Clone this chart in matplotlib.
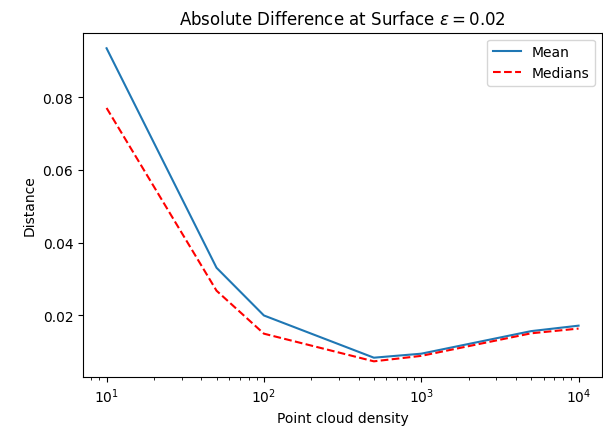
import matplotlib
matplotlib.use("Agg")
import matplotlib.pyplot as plt

density = [10, 50, 100, 500, 1000, 5000, 10000]
mean_vals = [0.0934, 0.0331, 0.0200, 0.0084, 0.0095, 0.0157, 0.0172]
median_vals = [0.0770, 0.0268, 0.0150, 0.0074, 0.0089, 0.0151, 0.0164]

fig = plt.figure(figsize=(6.03, 4.31), dpi=100)
ax = fig.add_axes([0.1376, 0.123, 0.861, 0.799])
ax.plot(density, mean_vals, color="#1f77b4", label="Mean")
ax.plot(density, median_vals, color="red", linestyle="--", label="Medians")
ax.set_xscale("log")
ax.set_title(r"Absolute Difference at Surface $\epsilon = 0.02$")
ax.set_xlabel("Point cloud density")
ax.set_ylabel("Distance")
ax.legend(loc="upper right")
fig.savefig("out.png", dpi=100)
